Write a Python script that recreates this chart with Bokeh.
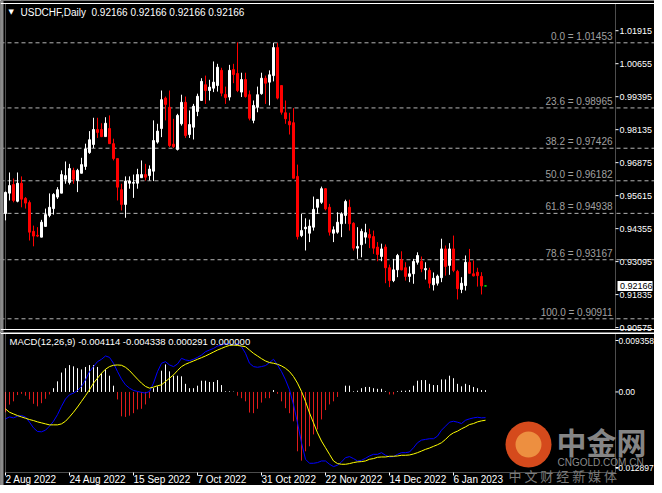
from bokeh.plotting import figure
from bokeh.layouts import column
from bokeh.models import Range1d, Label, Span, BoxAnnotation, ColumnDataSource
from bokeh.core.properties import value
from bokeh.embed import file_html
from bokeh.resources import INLINE

# ---------------- data ----------------
opens = [0.9493, 0.9571, 0.9604, 0.9540, 0.9609, 0.9551, 0.9535, 0.9425, 0.9410, 0.9403,
         0.9444, 0.9486, 0.9512, 0.9556, 0.9571, 0.9624, 0.9612, 0.9658, 0.9619, 0.9647,
         0.9673, 0.9726, 0.9757, 0.9814, 0.9814, 0.9787, 0.9818, 0.9760, 0.9703, 0.9584,
         0.9528, 0.9609, 0.9609, 0.9609, 0.9630, 0.9642, 0.9638, 0.9655, 0.9766, 0.9818,
         0.9934, 0.9899, 0.9758, 0.9738, 0.9836, 0.9918, 0.9795, 0.9823, 0.9883, 0.9925,
         0.9985, 0.9963, 0.9972, 0.9982, 1.0040, 0.9948, 0.9938, 1.0043, 1.0028, 0.9957,
         1.0005, 0.9947, 0.9849, 0.9899, 0.9951, 1.0010, 0.9995, 1.0020, 1.0127, 0.9982,
         0.9878, 0.9845, 0.9840, 0.9635, 0.9409, 0.9435, 0.9418, 0.9441, 0.9517, 0.9536,
         0.9588, 0.9517, 0.9418, 0.9422, 0.9454, 0.9486, 0.9517, 0.9456, 0.9361, 0.9374,
         0.9403, 0.9413, 0.9405, 0.9365, 0.9329, 0.9365, 0.9286, 0.9237, 0.9278, 0.9316,
         0.9286, 0.9253, 0.9263, 0.9307, 0.9311, 0.9278, 0.9276, 0.9221, 0.9227, 0.9248,
         0.9358, 0.9295, 0.9358, 0.9272, 0.9203, 0.9218, 0.9307, 0.9263, 0.9269, 0.9253,
         0.92166]
highs = [0.9577, 0.9650, 0.9627, 0.9650, 0.9635, 0.9556, 0.9543, 0.9447, 0.9441, 0.9469,
         0.9512, 0.9570, 0.9571, 0.9594, 0.9658, 0.9692, 0.9683, 0.9668, 0.9664, 0.9706,
         0.9760, 0.9808, 0.9859, 0.9859, 0.9838, 0.9861, 0.9868, 0.9779, 0.9703, 0.9607,
         0.9635, 0.9635, 0.9642, 0.9664, 0.9696, 0.9683, 0.9677, 0.9849, 0.9836, 0.9963,
         0.9940, 0.9963, 0.9855, 0.9874, 0.9947, 0.9940, 0.9887, 0.9912, 0.9951, 1.0010,
         1.0020, 1.0004, 1.0074, 1.0065, 1.0050, 0.9978, 1.0061, 1.0065, 1.0147, 1.0031,
         1.0031, 0.9963, 0.9925, 0.9978, 1.0031, 1.0020, 1.0040, 1.0145, 1.0145, 0.9982,
         0.9925, 0.9878, 0.9896, 0.9680, 0.9492, 0.9475, 0.9470, 0.9558, 0.9547, 0.9596,
         0.9590, 0.9530, 0.9444, 0.9498, 0.9498, 0.9546, 0.9546, 0.9460, 0.9441, 0.9435,
         0.9454, 0.9435, 0.9428, 0.9384, 0.9378, 0.9375, 0.9298, 0.9320, 0.9339, 0.9349,
         0.9307, 0.9291, 0.9320, 0.9345, 0.9329, 0.9307, 0.9286, 0.9268, 0.9260, 0.9397,
         0.9371, 0.9380, 0.9409, 0.9278, 0.9250, 0.9333, 0.9358, 0.9314, 0.9286, 0.9269,
         0.92166]
lows = [0.9467, 0.9543, 0.9536, 0.9536, 0.9517, 0.9512, 0.9390, 0.9368, 0.9403, 0.9403,
        0.9444, 0.9479, 0.9489, 0.9549, 0.9571, 0.9607, 0.9604, 0.9607, 0.9575, 0.9647,
        0.9660, 0.9721, 0.9743, 0.9782, 0.9785, 0.9787, 0.9760, 0.9696, 0.9543, 0.9505,
        0.9477, 0.9588, 0.9553, 0.9588, 0.9630, 0.9619, 0.9619, 0.9617, 0.9760, 0.9785,
        0.9849, 0.9747, 0.9743, 0.9734, 0.9829, 0.9782, 0.9782, 0.9776, 0.9865, 0.9925,
        0.9912, 0.9925, 0.9957, 0.9959, 0.9941, 0.9912, 0.9925, 0.9991, 0.9957, 0.9938,
        0.9936, 0.9849, 0.9838, 0.9880, 0.9947, 0.9912, 0.9906, 0.9998, 0.9929, 0.9871,
        0.9836, 0.9795, 0.9628, 0.9394, 0.9403, 0.9352, 0.9384, 0.9428, 0.9492, 0.9530,
        0.9505, 0.9409, 0.9384, 0.9416, 0.9403, 0.9454, 0.9428, 0.9352, 0.9320, 0.9326,
        0.9378, 0.9361, 0.9339, 0.9311, 0.9311, 0.9227, 0.9212, 0.9231, 0.9250, 0.9276,
        0.9237, 0.9231, 0.9225, 0.9298, 0.9269, 0.9241, 0.9208, 0.9199, 0.9218, 0.9231,
        0.9256, 0.9259, 0.9269, 0.9165, 0.9189, 0.9199, 0.9263, 0.9253, 0.9214, 0.9184,
        0.92166]
closes = [0.9574, 0.9600, 0.9543, 0.9609, 0.9548, 0.9533, 0.9422, 0.9407, 0.9407, 0.9460,
          0.9489, 0.9517, 0.9566, 0.9584, 0.9642, 0.9638, 0.9665, 0.9624, 0.9658, 0.9680,
          0.9740, 0.9775, 0.9814, 0.9803, 0.9787, 0.9838, 0.9760, 0.9703, 0.9594, 0.9528,
          0.9617, 0.9617, 0.9612, 0.9642, 0.9642, 0.9632, 0.9663, 0.9772, 0.9808, 0.9928,
          0.9910, 0.9753, 0.9749, 0.9868, 0.9918, 0.9791, 0.9833, 0.9903, 0.9941, 0.9998,
          0.9963, 0.9976, 0.9995, 1.0052, 0.9953, 0.9936, 1.0040, 1.0024, 0.9963, 1.0005,
          0.9940, 0.9857, 0.9906, 0.9947, 1.0010, 0.9991, 1.0023, 1.0127, 0.9934, 0.9880,
          0.9855, 0.9832, 0.9628, 0.9405, 0.9428, 0.9441, 0.9445, 0.9509, 0.9547, 0.9588,
          0.9511, 0.9422, 0.9431, 0.9460, 0.9492, 0.9539, 0.9454, 0.9361, 0.9367, 0.9425,
          0.9420, 0.9400, 0.9361, 0.9337, 0.9358, 0.9286, 0.9237, 0.9278, 0.9333, 0.9278,
          0.9253, 0.9263, 0.9310, 0.9333, 0.9282, 0.9283, 0.9227, 0.9246, 0.9254, 0.9358,
          0.9291, 0.9358, 0.9276, 0.9206, 0.9227, 0.9307, 0.9265, 0.9255, 0.9256, 0.92166,
          0.92166]

macd_main = [-0.00431, -0.00400, -0.00415, -0.00389, -0.00378, -0.00400, -0.00484, -0.00575, -0.00633, -0.00638,
             -0.00612, -0.00548, -0.00469, -0.00363, -0.00230, -0.00113, -0.00045, -0.00018, 0.00024, 0.00088,
             0.00194, 0.00326, 0.00406, 0.00485, 0.00523, 0.00576, 0.00554, 0.00459, 0.00326, 0.00205,
             0.00114, 0.00061, 0.00024, 0.00008, -0.00007, -0.00018, 0.00008, 0.00141, 0.00326, 0.00459,
             0.00485, 0.00432, 0.00406, 0.00448, 0.00538, 0.00512, 0.00501, 0.00523, 0.00554, 0.00591,
             0.00644, 0.00671, 0.00697, 0.00735, 0.00750, 0.00777, 0.00766, 0.00750, 0.00777, 0.00724,
             0.00618, 0.00459, 0.00406, 0.00395, 0.00406, 0.00422, 0.00470, 0.00523, 0.00432, 0.00326,
             0.00194, 0.00035, -0.00204, -0.00495, -0.00813, -0.01078, -0.01142, -0.01142, -0.01131, -0.01105,
             -0.01105, -0.01158, -0.01195, -0.01173, -0.01120, -0.01052, -0.01036, -0.01067, -0.01105, -0.01094,
             -0.01062, -0.01025, -0.00999, -0.00999, -0.00972, -0.01014, -0.01041, -0.01036, -0.00999, -0.00972,
             -0.00972, -0.00961, -0.00893, -0.00813, -0.00771, -0.00760, -0.00749, -0.00749, -0.00707, -0.00612,
             -0.00548, -0.00484, -0.00469, -0.00484, -0.00506, -0.00453, -0.00431, -0.00415, -0.00405, -0.00415,
             -0.00411]
macd_signal = [-0.00272, -0.00325, -0.00352, -0.00378, -0.00400, -0.00421, -0.00442, -0.00458, -0.00479, -0.00495,
               -0.00511, -0.00527, -0.00527, -0.00527, -0.00511, -0.00469, -0.00400, -0.00325, -0.00241, -0.00151,
               -0.00060, 0.00035, 0.00141, 0.00220, 0.00300, 0.00364, 0.00406, 0.00427, 0.00432, 0.00427,
               0.00395, 0.00342, 0.00273, 0.00205, 0.00141, 0.00088, 0.00061, 0.00077, 0.00099, 0.00114,
               0.00167, 0.00220, 0.00273, 0.00342, 0.00406, 0.00443, 0.00470, 0.00496, 0.00523, 0.00549,
               0.00576, 0.00607, 0.00639, 0.00671, 0.00697, 0.00724, 0.00745, 0.00750, 0.00745, 0.00735,
               0.00724, 0.00671, 0.00618, 0.00576, 0.00533, 0.00496, 0.00470, 0.00459, 0.00443, 0.00417,
               0.00379, 0.00326, 0.00247, 0.00141, 0.00008, -0.00151, -0.00336, -0.00495, -0.00654, -0.00787,
               -0.00893, -0.00999, -0.01105, -0.01147, -0.01158, -0.01158, -0.01147, -0.01131, -0.01120, -0.01115,
               -0.01105, -0.01078, -0.01067, -0.01046, -0.01041, -0.01041, -0.01030, -0.01030, -0.01025, -0.01014,
               -0.01014, -0.01009, -0.00993, -0.00972, -0.00946, -0.00919, -0.00898, -0.00871, -0.00845, -0.00813,
               -0.00760, -0.00696, -0.00654, -0.00628, -0.00590, -0.00559, -0.00522, -0.00506, -0.00479, -0.00463,
               -0.00453]
macd_hist = [-0.00325, -0.00203, -0.0015, -0.0005, -0.0003, -0.0006, -0.0012, -0.0019, -0.0023, -0.0018,
             -0.0011, -0.0004, 0.0006, 0.0017, 0.0031, 0.0038, 0.0043, 0.0041, 0.0038, 0.0036,
             0.0040, 0.0043, 0.0043, 0.0040, 0.0030, 0.0036, 0.0026, 0.0010, -0.0012, -0.0039,
             -0.0040, -0.0038, -0.0034, -0.0028, -0.0027, -0.0020, -0.0010, 0.0006, 0.0009, 0.0034,
             0.0044, 0.0033, 0.0026, 0.0026, 0.0025, 0.0013, 0.0006, 0.0006, 0.0010, 0.0018,
             0.0018, 0.0016, 0.0016, 0.0019, 0.0011, 0.0001, 0.0001, 0.00005, -0.0006, -0.0010,
             -0.0015, -0.0033, -0.0034, -0.0027, -0.0017, -0.0010, -0.0010, 0.0003, -0.0003, -0.0015,
             -0.0026, -0.0034, -0.0047, -0.0095, -0.0110, -0.0095, -0.0087, -0.0068, -0.0060, -0.0044,
             -0.0029, -0.0020, -0.0015, -0.0008, 0.0, 0.0010, 0.0010, 0.0001, 0.0002, 0.0006,
             0.0008, 0.0008, 0.0006, 0.0005, 0.0005, 0.0001, -0.0004, -0.0004, 0.0001, 0.0002,
             0.0002, 0.0003, 0.0010, 0.0018, 0.0019, 0.0019, 0.0013, 0.0011, 0.0011, 0.0020,
             0.0020, 0.0026, 0.0022, 0.0013, 0.0009, 0.0013, 0.0011, 0.0008, 0.0006, 0.0003,
             0.00029]

fib_pct = [0.0, 23.6, 38.2, 50.0, 61.8, 78.6, 100.0]
fib_price = [1.01453, 0.98965, 0.97426, 0.96182, 0.94938, 0.93167, 0.90911]

price_ticks = [1.01915, 1.00655, 0.99395, 0.98135, 0.96875, 0.95615, 0.94355, 0.93095, 0.91835, 0.90575]
macd_scale = [-0.012897, 0.009358]          # min / max shown on the MACD scale
macd_tick_labels = ["0.009358", "0.00", "-0.012897"]

date_tick_idx = [0, 16, 32, 48, 64, 80, 96, 112]
date_tick_labels = ["2 Aug 2022", "24 Aug 2022", "15 Sep 2022", "7 Oct 2022",
                    "31 Oct 2022", "22 Nov 2022", "14 Dec 2022", "6 Jan 2023"]

symbol_title = "USDCHF,Daily"
last_price = 0.92166
ohlc_title = "0.92166 0.92166 0.92166 0.92166"
macd_title = "MACD(12,26,9) -0.004114 -0.004338 0.000291 0.000000"

# ---------------- layout constants ----------------
FONT = "Liberation Sans"
W = 654                 # canvas width
H1 = 332                # price panel canvas height
H2 = 153                # MACD panel + date strip canvas height
PX = 4.0                # pixels per bar
X0 = -1.25              # data x at the canvas' left edge
PANEL_L, PANEL_R = 5, 615   # panel borders (screen px)


def px2x(px):
    return X0 + px / PX


xr = Range1d(X0, X0 + W / PX)

# price panel: fib level 0.0 sits 42.3 px from the top, 2618 px per unit
k1 = 2618.0
p_top = fib_price[0] + 42.3 / k1
yr1 = Range1d(p_top - H1 / k1, p_top)

# MACD panel: scale max at local y 1, scale min at local y 140
k2 = 139.0 / (macd_scale[1] - macd_scale[0])
m_top = macd_scale[1] + 1 / k2
yr2 = Range1d(m_top - H2 / k2, m_top)


def make_fig(h, yr):
    f = figure(width=W, height=h, x_range=xr, y_range=yr,
               x_axis_location=None, y_axis_location=None,
               toolbar_location=None, output_backend="svg",
               min_border_left=0, min_border_right=0, min_border_top=0, min_border_bottom=0,
               background_fill_color="black", border_fill_color="black",
               outline_line_color=None)
    f.grid.visible = False
    f.add_layout(BoxAnnotation(left=0, right=3, left_units="screen", right_units="screen",
                               fill_color="#8c8c8c", fill_alpha=1.0, line_color=None))
    return f


def screen_box(left, right, top, bottom, **kw):
    return BoxAnnotation(left=left, right=right, top=top, bottom=bottom,
                         left_units="screen", right_units="screen",
                         top_units="screen", bottom_units="screen", **kw)


# ================= price panel =================
p = make_fig(H1, yr1)

idx = list(range(len(closes)))
colors = ["#ffffff" if c > o else ("#ff0000" if c < o else "#00ff00") for o, c in zip(opens, closes)]
src = ColumnDataSource(dict(x=idx, h=highs, l=lows,
                            top=[max(o, c) for o, c in zip(opens, closes)],
                            bot=[min(o, c) for o, c in zip(opens, closes)],
                            color=colors))

for pct, lv in zip(fib_pct, fib_price):
    p.add_layout(Span(location=lv, dimension="width", line_color="#b4b4b4",
                      line_dash="4 3", line_width=1, level="underlay"))
    p.add_layout(Label(x=612, y=lv, x_units="screen", text=f"{pct:.1f} = {lv:.5f}",
                       text_align="right", text_baseline="bottom", y_offset=1,
                       text_color="#a0a0a0", text_font=FONT, text_font_size="10px"))

p.segment(x0="x", y0="h", x1="x", y1="l", line_color="color", line_width=1, source=src)
p.vbar(x="x", width=0.5, top="top", bottom="bot", fill_color="color",
       line_color="color", line_width=1, source=src)

# panel border and full-width rules
p.add_layout(screen_box(PANEL_L, PANEL_R, H1 - 3, 3, fill_color=None, line_color="white", line_width=1))
p.add_layout(Span(location=H1 - 3, location_units="screen", dimension="width", line_color="white"))
p.add_layout(Span(location=3, location_units="screen", dimension="width", line_color="white"))

# price scale (right)
p.segment(x0=[px2x(PANEL_R)] * len(price_ticks), y0=price_ticks,
          x1=[px2x(PANEL_R + 3)] * len(price_ticks), y1=price_ticks, line_color="white")
p.text(x=[px2x(619)] * len(price_ticks), y=price_ticks, text=[f"{t:.5f}" for t in price_ticks],
       text_baseline="middle", text_align="left", text_color="white",
       text_font=value(FONT), text_font_size=value("9px"))
p.add_layout(Label(x=617, y=last_price, x_units="screen",
                   text="\u00a0" + f"{last_price:.5f}",
                   text_color="black", background_fill_color="white",
                   text_font=FONT, text_font_size="9px", text_baseline="middle"))

# titles
p.add_layout(Label(x=8, y=H1 - 11, x_units="screen", y_units="screen", text="\u25BC",
                   text_color="white", text_font="DejaVu Sans", text_font_size="7px",
                   text_baseline="middle"))
p.add_layout(Label(x=20, y=H1 - 11.5, x_units="screen", y_units="screen", text=symbol_title,
                   text_color="white", text_font=FONT, text_font_size="10px",
                   text_baseline="middle"))
p.add_layout(Label(x=91, y=H1 - 11.5, x_units="screen", y_units="screen", text=ohlc_title,
                   text_color="white", text_font=FONT, text_font_size="10px",
                   text_baseline="middle"))

# ================= MACD panel + dates =================
m = make_fig(H2, yr2)

hcol = ["#ffffff" if v >= 0 else "#e01b1b" for v in macd_hist]
m.segment(x0=idx, y0=[0.0] * len(idx), x1=idx, y1=macd_hist, line_color=hcol, line_width=1)
m.line(idx, macd_main, line_color="#0000ff", line_width=1)
m.line(idx, macd_signal, line_color="#ffff00", line_width=1)

m.add_layout(screen_box(PANEL_L, PANEL_R, H2 - 1, 13, fill_color=None, line_color="white", line_width=1))
m.add_layout(Span(location=H2 - 1, location_units="screen", dimension="width", line_color="white"))

# MACD scale: top/bottom labels sit just inside the panel
macd_label_y = [macd_scale[1] - 7 / k2, 0.0, macd_scale[0] + 5 / k2]
m.segment(x0=[px2x(PANEL_R)] * 3, y0=macd_label_y, x1=[px2x(PANEL_R + 3)] * 3, y1=macd_label_y,
          line_color="white")
m.text(x=[px2x(618), px2x(618), px2x(615)], y=macd_label_y, text=macd_tick_labels,
       text_baseline="middle", text_align="left", text_color="white",
       text_font=value(FONT), text_font_size=value("8.5px"))
m.add_layout(Label(x=9, y=H2 - 9, x_units="screen", y_units="screen", text=macd_title,
                   text_color="white", text_font=FONT, text_font_size="9.5px",
                   text_baseline="middle"))

# date scale
m.segment(x0=date_tick_idx, y0=[macd_scale[0]] * len(date_tick_idx), x1=date_tick_idx,
          y1=[macd_scale[0] - 3 / k2] * len(date_tick_idx), line_color="white")
for i, lab in zip(date_tick_idx, date_tick_labels):
    m.add_layout(Label(x=i, y=6.5, y_units="screen", text=lab, text_align="left",
                       text_baseline="middle", text_color="white",
                       text_font=FONT, text_font_size="10px"))

# watermark (positions measured from the canvas bottom)
m.add_layout(screen_box(505, 551, 64, 18, fill_color="#d54a1c", fill_alpha=1.0,
                        line_color=None, border_radius=23))
m.add_layout(screen_box(515, 541, 54, 28, fill_color="#f2a04a", fill_alpha=0.8,
                        line_color=None, border_radius=13))
m.add_layout(Label(x=556, y=45, x_units="screen", y_units="screen", text="中金网",
                   text_color="#858585", text_font="Noto Sans CJK SC", text_font_size="30px",
                   text_font_style="bold", text_baseline="middle"))
m.add_layout(Label(x=557, y=23.5, x_units="screen", y_units="screen", text="CNGOLD.COM.CN",
                   text_color="#8a8a8a", text_font=FONT, text_font_size="10px",
                   text_baseline="middle"))
m.add_layout(Label(x=508, y=10.5, x_units="screen", y_units="screen", text="中 文 财 经 新 媒 体",
                   text_color="#7a7a7a", text_font="Noto Sans CJK SC", text_font_size="13px",
                   text_baseline="middle"))

layout = column(p, m, spacing=0)
open("out.html", "w").write(file_html(layout, INLINE))
